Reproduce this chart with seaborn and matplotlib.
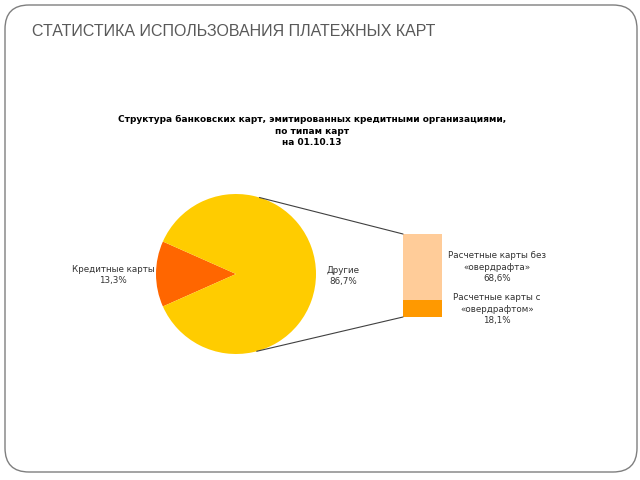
import matplotlib
matplotlib.use("Agg")
import matplotlib.pyplot as plt
from matplotlib.patches import FancyBboxPatch, ConnectionPatch
import numpy as np
import pandas as pd
import seaborn as sns

sns.set_theme(style="white")
plt.rcParams['font.family'] = ['DejaVu Sans']

# ---- data ----
slide_title = "СТАТИСТИКА ИСПОЛЬЗОВАНИЯ ПЛАТЕЖНЫХ КАРТ"
chart_title = "Структура банковских карт, эмитированных кредитными организациями,\nпо типам карт\nна 01.10.13"
pie_labels = ["Кредитные карты", "Другие"]
pie_values = [13.3, 86.7]
pie_colors = ["#FF6600", "#FFCC00"]
bar_labels = ["Расчетные карты с\n«овердрафтом»", "Расчетные карты без\n«овердрафта»"]
bar_values = [18.1, 68.6]
bar_colors = ["#FF9900", "#FFCC99"]

W, H = 640, 480
fig = plt.figure(figsize=(6.4, 4.8), dpi=100)

# background (slide) axes in pixel coords
bg = fig.add_axes([0, 0, 1, 1])
bg.set_xlim(0, W)
bg.set_ylim(H, 0)
bg.axis("off")
bg.add_patch(FancyBboxPatch((5, 5), 632, 467,
                            boxstyle="round,pad=0,rounding_size=24",
                            fc="white", ec="#7f7f7f", lw=1.0))
bg.text(32, 32, slide_title, fontsize=11.5, color="#595959",
        family=["Liberation Sans", "DejaVu Sans"], va="center", ha="left")
bg.text(312, 131, chart_title, fontsize=6.5, fontweight="bold", color="black",
        ha="center", va="center", linespacing=1.35)

def fx(px):
    return px / W

def fy(py):
    return 1 - py / H

# pie axes
cx, cy, r = 236, 274, 80
pax = fig.add_axes([fx(cx - r), fy(cy + r), 2 * r / W, 2 * r / H])
start = 180 - pie_values[0] * 3.6 / 2
wedges, _ = pax.pie(pie_values, colors=pie_colors, startangle=start,
                    counterclock=True, radius=1,
                    wedgeprops=dict(linewidth=0))
pax.set_xlim(-1, 1)
pax.set_ylim(-1, 1)
pax.set_aspect("auto")
pax.axis("off")

# bar axes
bx0, bx1, by0, by1 = 403, 442, 234, 317
bax = fig.add_axes([fx(bx0), fy(by1), (bx1 - bx0) / W, (by1 - by0) / H])
total = sum(bar_values)
df_tot = pd.DataFrame({"x": ["a"], "v": [total]})
df_low = pd.DataFrame({"x": ["a"], "v": [bar_values[0]]})
sns.barplot(data=df_tot, x="x", y="v", color=bar_colors[1], width=1.0,
            saturation=1, ax=bax, linewidth=0)
sns.barplot(data=df_low, x="x", y="v", color=bar_colors[0], width=1.0,
            saturation=1, ax=bax, linewidth=0)
bax.set_xlim(-0.5, 0.5)
bax.set_ylim(0, total)
bax.axis("off")

# connector lines
for ang, ybar in [(73, total), (-75, 0)]:
    a = np.deg2rad(ang)
    con = ConnectionPatch(xyA=(np.cos(a), np.sin(a)), coordsA=pax.transData,
                          xyB=(-0.5, ybar), coordsB=bax.transData,
                          color="#404040", lw=0.8)
    fig.add_artist(con)

# labels
lab_kw = dict(fontsize=6.3, color="#333333", ha="center", va="center", linespacing=1.35)
bg.text(113, 275, f"{pie_labels[0]}\n{pie_values[0]:.1f}%".replace(".", ","), **lab_kw)
bg.text(343, 276, f"{pie_labels[1]}\n{pie_values[1]:.1f}%".replace(".", ","), **lab_kw)
bg.text(497, 267, f"{bar_labels[1]}\n{bar_values[1]:.1f}%".replace(".", ","), **lab_kw)
bg.text(497, 309, f"{bar_labels[0]}\n{bar_values[0]:.1f}%".replace(".", ","), **lab_kw)

fig.savefig("out.png", dpi=100, facecolor="white")
